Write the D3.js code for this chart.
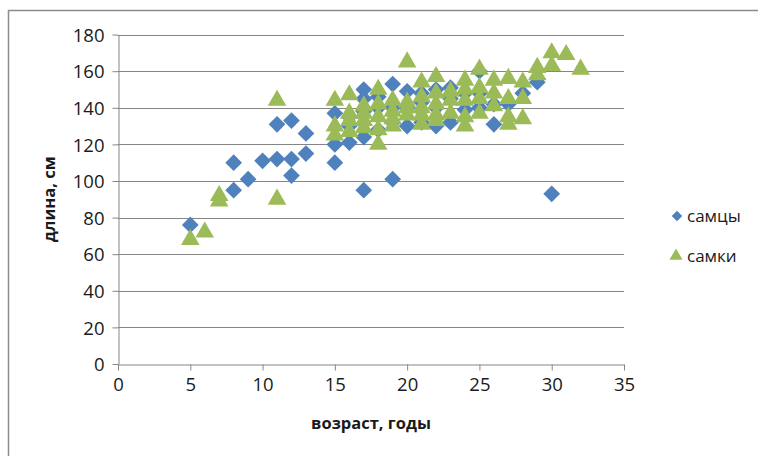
<!DOCTYPE html>
<html>
<head>
<meta charset="utf-8">
<script src="https://cdn.jsdelivr.net/npm/d3@7"></script>
<style>
  html, body { margin: 0; padding: 0; background: #fff; }
  svg { display: block; }
  text { font-family: "Open Sans", "Noto Sans", sans-serif; fill: #1a1a1a; }
</style>
</head>
<body>
<svg id="chart" width="758" height="456"></svg>
<script>
// Age (years) vs body length (cm)
const males = [
  [5,76],[8,95],[8,110],[9,101],[10,111],[11,131],[11,112],[12,133],[12,112],[12,103],[13,126],[13,115],
  [15,110],[15,120],[15,137],[16,121],[16,130],[16,135],[17,95],[17,124],[17,150],[17,145],[17,138],
  [18,146],[18,140],[18,128],[19,101],[19,153],[19,140],[19,132],[20,149],[20,130],[20,140],
  [21,132],[21,143],[21,148],[22,130],[22,150],[22,140],[23,151],[23,132],[23,145],[24,139],[24,148],
  [25,160],[25,148],[25,140],[26,131],[26,142],[27,142],[28,148],[29,154],[29,156],[30,93]
];
const females = [
  [5,68],[6,72],[7,92],[7,89],[11,144],[11,90],
  [15,144],[15,130],[15,125],[16,147],[16,137],[16,127],[16,133],[17,141],[17,133],[17,129],[17,137],
  [18,150],[18,142],[18,135],[18,128],[18,120],[19,144],[19,138],[19,130],[19,134],
  [20,165],[20,143],[20,136],[20,140],[21,154],[21,146],[21,140],[21,131],[21,136],
  [22,157],[22,148],[22,142],[22,136],[22,133],[23,144],[23,149],[23,137],
  [24,155],[24,144],[24,130],[24,150],[24,135],[25,161],[25,151],[25,145],[25,137],
  [26,155],[26,148],[26,141],[27,156],[27,145],[27,135],[27,131],[28,154],[28,145],[28,134],
  [29,162],[29,158],[30,170],[30,163],[31,169],[32,161]
];
const xTicks = [0, 5, 10, 15, 20, 25, 30, 35];
const yTicks = [0, 20, 40, 60, 80, 100, 120, 140, 160, 180];
const seriesNames = ["самцы", "самки"];
const xTitle = "возраст, годы";
const yTitle = "длина, см";

const svg = d3.select("#chart");
const plot = { left: 118, right: 624, top: 34.6, bottom: 364 };
const gridColor = "#868686";
const blue = "#4F81BD", green = "#9BBB59";

// chart frame
svg.append("rect")
  .attr("x", 8.5).attr("y", 10.5).attr("width", 800).attr("height", 500)
  .attr("fill", "none").attr("stroke", "#8c8c8c").attr("stroke-width", 1.5);

const x = d3.scaleLinear().domain([0, 35]).range([plot.left, plot.right]);
const y = d3.scaleLinear().domain([0, 180]).range([plot.bottom, plot.top]);

// horizontal gridlines
svg.append("g")
  .selectAll("line").data(yTicks.filter(v => v > 0)).join("line")
  .attr("x1", plot.left).attr("x2", plot.right)
  .attr("y1", d => Math.round(y(d)) + 0.5).attr("y2", d => Math.round(y(d)) + 0.5)
  .attr("stroke", gridColor).attr("stroke-width", 1);

// y axis
const yAxis = svg.append("g")
  .attr("transform", `translate(${plot.left + 0.5},0)`)
  .call(d3.axisLeft(y).tickValues(yTicks).tickSize(6).tickPadding(8).tickSizeOuter(0));
// x axis
const xAxis = svg.append("g")
  .attr("transform", `translate(0,${plot.bottom + 0.5})`)
  .call(d3.axisBottom(x).tickValues(xTicks).tickSize(6).tickPadding(6).tickSizeOuter(0));

[yAxis, xAxis].forEach(g => {
  g.select(".domain").attr("stroke", gridColor);
  g.selectAll(".tick line").attr("stroke", gridColor);
  g.selectAll(".tick text")
    .style("font-family", "'Open Sans', 'Noto Sans', sans-serif")
    .style("font-size", "18.5px").attr("fill", "#1a1a1a");
});
yAxis.selectAll(".tick text").attr("dy", "0.36em");
xAxis.selectAll(".tick text").attr("dy", "0.8em");

// axis titles
svg.append("text")
  .attr("x", (plot.left + plot.right) / 2).attr("y", 429)
  .attr("text-anchor", "middle")
  .style("font-size", "16.5px").style("font-weight", "bold")
  .text(xTitle);
svg.append("text")
  .attr("transform", `translate(55,${(plot.top + plot.bottom) / 2}) rotate(-90)`)
  .attr("text-anchor", "middle")
  .style("font-size", "16.5px").style("font-weight", "bold")
  .text(yTitle);

// markers
const diamond = d3.symbol().type(d3.symbolSquare).size(140);
const triangle = d3.symbol().type(d3.symbolTriangle).size(150);

svg.append("g").selectAll("path").data(males).join("path")
  .attr("d", diamond)
  .attr("transform", d => `translate(${x(d[0])},${y(d[1])}) rotate(45)`)
  .attr("fill", blue);

svg.append("g").selectAll("path").data(females).join("path")
  .attr("d", triangle)
  .attr("transform", d => `translate(${x(d[0])},${y(d[1])})`)
  .attr("fill", green);

// legend
const legend = svg.append("g");
legend.append("path").attr("d", d3.symbol().type(d3.symbolSquare).size(55))
  .attr("transform", "translate(677,216) rotate(45)").attr("fill", blue);
legend.append("path").attr("d", d3.symbol().type(d3.symbolTriangle).size(75))
  .attr("transform", "translate(676,256)").attr("fill", green);
legend.selectAll("text").data(seriesNames).join("text")
  .attr("x", 687).attr("y", (d, i) => 216 + i * 40)
  .attr("dy", "0.36em")
  .style("font-size", "17px")
  .text(d => d);
</script>
</body>
</html>
